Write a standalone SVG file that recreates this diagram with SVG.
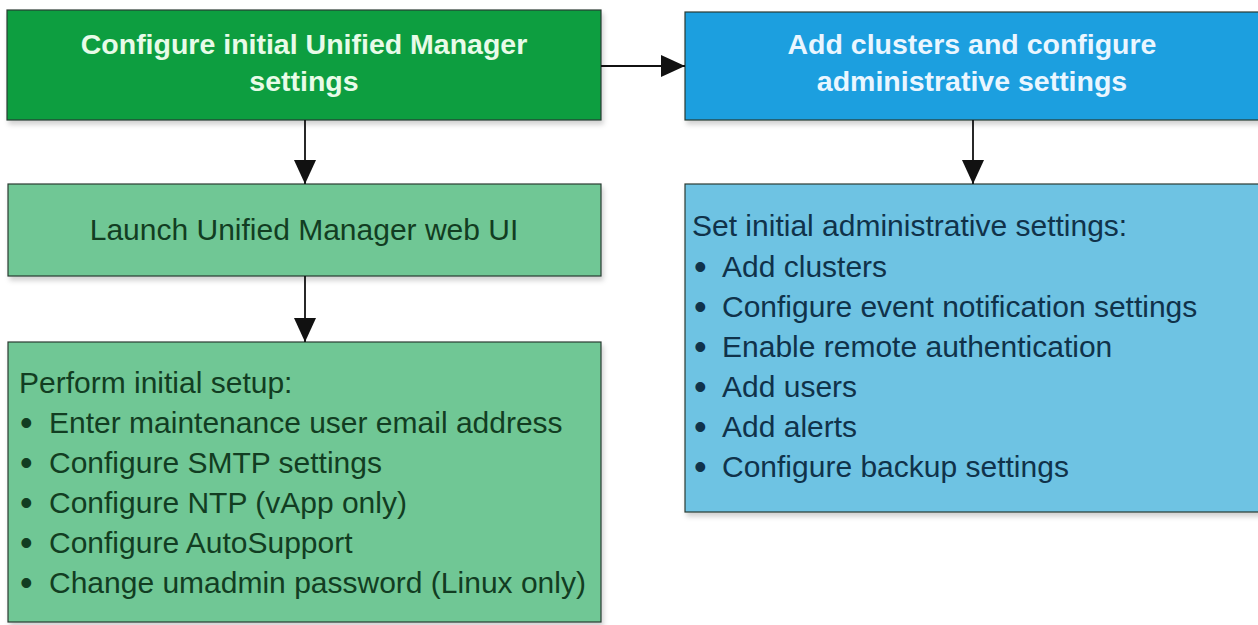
<svg xmlns="http://www.w3.org/2000/svg" width="1258" height="625" viewBox="0 0 1258 625">
  <defs>
    <style>
      .box { stroke: #2b3b33; stroke-width: 1.2; }
      .title { font-family: "Liberation Sans", Arial, sans-serif; font-weight: bold; font-size: 28.5px; text-anchor: middle; }
      .body { font-family: "Liberation Sans", Arial, sans-serif; font-size: 30px; }
      .bullet { font-family: "Liberation Sans", Arial, sans-serif; font-size: 36px; }
      .gtext { fill: #123d22; }
      .btext { fill: #10324a; }
      .conn { stroke: #111; stroke-width: 1.8; fill: none; }
    </style>
    <filter id="shadow" x="-5%" y="-5%" width="110%" height="120%">
      <feDropShadow dx="2" dy="4" stdDeviation="2.5" flood-color="#000" flood-opacity="0.18"/>
    </filter>
    <marker id="arrow" viewBox="0 0 24 22" refX="24" refY="11" markerWidth="24" markerHeight="22" markerUnits="userSpaceOnUse" orient="auto">
      <path d="M0,0 L24,11 L0,22 Z" fill="#111"/>
    </marker>
  </defs>

  <rect width="1258" height="625" fill="#ffffff"/>

  <g id="configure-initial">
    <rect class="box" x="7" y="10" width="594" height="110" fill="#109e40" filter="url(#shadow)"/>
    <text class="title" x="304" y="54" fill="#e8fbe8">Configure initial Unified Manager</text>
    <text class="title" x="304" y="91" fill="#e8fbe8">settings</text>
  </g>

  <g id="add-clusters">
    <rect class="box" x="685" y="12" width="580" height="108" fill="#1a9fdf" filter="url(#shadow)"/>
    <text class="title" x="972" y="54" fill="#eaf6ff">Add clusters and configure</text>
    <text class="title" x="972" y="91" fill="#eaf6ff">administrative settings</text>
  </g>

  <g id="launch-web-ui">
    <rect class="box" x="8" y="184" width="593" height="92" fill="#6fc795" filter="url(#shadow)"/>
    <text class="body gtext" x="304" y="240" text-anchor="middle">Launch Unified Manager web UI</text>
  </g>

  <g id="initial-setup">
    <rect class="box" x="8" y="342" width="593" height="280" fill="#6fc795" filter="url(#shadow)"/>
    <text class="body gtext" x="19" y="393">Perform initial setup:</text>
    <text class="bullet gtext" x="20" y="435">•</text>
    <text class="body gtext" x="49" y="433">Enter maintenance user email address</text>
    <text class="bullet gtext" x="20" y="475">•</text>
    <text class="body gtext" x="49" y="473">Configure SMTP settings</text>
    <text class="bullet gtext" x="20" y="515">•</text>
    <text class="body gtext" x="49" y="513">Configure NTP (vApp only)</text>
    <text class="bullet gtext" x="20" y="555">•</text>
    <text class="body gtext" x="49" y="553">Configure AutoSupport</text>
    <text class="bullet gtext" x="20" y="595">•</text>
    <text class="body gtext" x="49" y="593">Change umadmin password (Linux only)</text>
  </g>

  <g id="admin-settings">
    <rect class="box" x="685" y="184" width="580" height="328" fill="#6ec3e3" filter="url(#shadow)"/>
    <text class="body btext" x="692" y="236">Set initial administrative settings:</text>
    <text class="bullet btext" x="694" y="279">•</text>
    <text class="body btext" x="722" y="277">Add clusters</text>
    <text class="bullet btext" x="694" y="319">•</text>
    <text class="body btext" x="722" y="317">Configure event notification settings</text>
    <text class="bullet btext" x="694" y="359">•</text>
    <text class="body btext" x="722" y="357">Enable remote authentication</text>
    <text class="bullet btext" x="694" y="399">•</text>
    <text class="body btext" x="722" y="397">Add users</text>
    <text class="bullet btext" x="694" y="439">•</text>
    <text class="body btext" x="722" y="437">Add alerts</text>
    <text class="bullet btext" x="694" y="479">•</text>
    <text class="body btext" x="722" y="477">Configure backup settings</text>
  </g>

  <g id="connectors">
    <line class="conn" x1="601" y1="66" x2="685" y2="66" marker-end="url(#arrow)"/>
    <line class="conn" x1="305" y1="120" x2="305" y2="184" marker-end="url(#arrow)"/>
    <line class="conn" x1="305" y1="276" x2="305" y2="342" marker-end="url(#arrow)"/>
    <line class="conn" x1="973" y1="120" x2="973" y2="184" marker-end="url(#arrow)"/>
  </g>
</svg>
